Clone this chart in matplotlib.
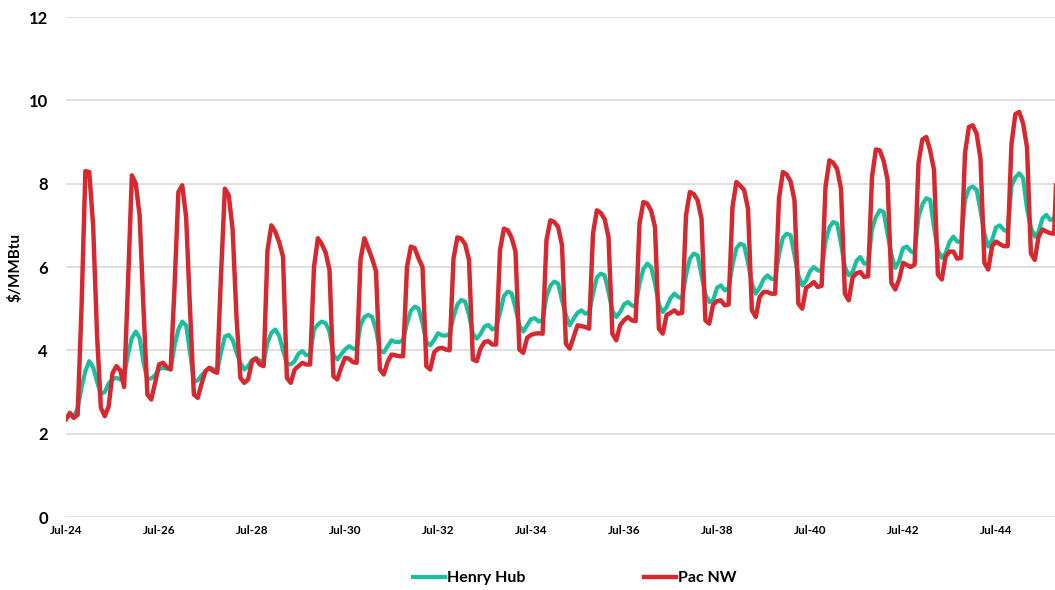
import numpy as np
import matplotlib
matplotlib.use("Agg")
import matplotlib.pyplot as plt

# Monthly forward prices, $/MMBtu, Jul-24 .. Nov-45 (one row = Jul..Jun)
henry_hub = [
    2.36, 2.45, 2.42, 2.60, 3.10, 3.50, 3.74, 3.60, 3.25, 2.95, 3.00, 3.20,  # Jul-24
    3.30, 3.34, 3.30, 3.40, 3.90, 4.30, 4.45, 4.30, 3.70, 3.30, 3.33, 3.40,  # Jul-25
    3.55, 3.58, 3.56, 3.55, 4.10, 4.50, 4.69, 4.60, 3.95, 3.25, 3.28, 3.40,  # Jul-26
    3.50, 3.58, 3.55, 3.50, 3.95, 4.33, 4.37, 4.25, 3.95, 3.70, 3.54, 3.62,  # Jul-27
    3.76, 3.82, 3.75, 3.72, 4.18, 4.42, 4.50, 4.35, 4.00, 3.68, 3.66, 3.74,  # Jul-28
    3.92, 3.98, 3.88, 3.90, 4.50, 4.62, 4.69, 4.65, 4.45, 3.90, 3.78, 3.90,  # Jul-29
    4.02, 4.10, 4.05, 4.02, 4.60, 4.80, 4.85, 4.80, 4.49, 4.00, 3.95, 4.10,  # Jul-30
    4.24, 4.20, 4.20, 4.25, 4.65, 4.95, 5.05, 5.00, 4.65, 4.20, 4.12, 4.25,  # Jul-31
    4.41, 4.36, 4.35, 4.40, 4.80, 5.10, 5.21, 5.17, 4.85, 4.40, 4.28, 4.40,  # Jul-32
    4.57, 4.61, 4.50, 4.55, 4.89, 5.30, 5.41, 5.37, 5.01, 4.60, 4.45, 4.60,  # Jul-33
    4.75, 4.77, 4.69, 4.73, 5.29, 5.55, 5.65, 5.60, 5.20, 4.85, 4.60, 4.76,  # Jul-34
    4.90, 4.96, 4.88, 4.90, 5.36, 5.75, 5.84, 5.80, 5.40, 4.95, 4.80, 4.92,  # Jul-35
    5.10, 5.16, 5.08, 5.05, 5.60, 5.95, 6.08, 6.00, 5.60, 5.10, 4.92, 5.04,  # Jul-36
    5.25, 5.36, 5.28, 5.24, 5.80, 6.20, 6.32, 6.28, 5.80, 5.35, 5.16, 5.20,  # Jul-37
    5.50, 5.56, 5.44, 5.50, 6.05, 6.45, 6.56, 6.52, 6.10, 5.60, 5.36, 5.50,  # Jul-38
    5.70, 5.80, 5.72, 5.70, 6.30, 6.70, 6.80, 6.76, 6.28, 5.80, 5.56, 5.68,  # Jul-39
    5.90, 6.00, 5.92, 5.90, 6.60, 6.95, 7.08, 7.04, 6.56, 6.00, 5.80, 5.88,  # Jul-40
    6.15, 6.24, 6.08, 6.10, 6.90, 7.20, 7.36, 7.32, 6.80, 6.30, 5.98, 6.14,  # Jul-41
    6.45, 6.49, 6.38, 6.33, 7.20, 7.50, 7.65, 7.61, 6.95, 6.40, 6.22, 6.33,  # Jul-42
    6.60, 6.73, 6.61, 6.60, 7.60, 7.88, 7.93, 7.85, 7.35, 6.80, 6.49, 6.65,  # Jul-43
    6.95, 7.00, 6.89, 6.85, 7.95, 8.15, 8.25, 8.13, 7.40, 6.95, 6.73, 6.85,  # Jul-44
    7.17, 7.25, 7.13, 7.15, 7.80,                                            # Jul-45
]

pac_nw = [
    2.35, 2.50, 2.38, 2.45, 5.00, 8.30, 8.28, 7.00, 4.40, 2.62, 2.42, 2.65,  # Jul-24
    3.45, 3.62, 3.52, 3.12, 5.60, 8.20, 8.00, 7.24, 5.00, 2.94, 2.82, 3.22,  # Jul-25
    3.66, 3.70, 3.60, 3.54, 5.50, 7.80, 7.96, 7.20, 5.00, 2.94, 2.86, 3.20,  # Jul-26
    3.50, 3.58, 3.50, 3.46, 5.80, 7.88, 7.72, 6.90, 4.80, 3.34, 3.22, 3.30,  # Jul-27
    3.74, 3.80, 3.66, 3.62, 6.40, 7.00, 6.85, 6.60, 6.25, 3.34, 3.22, 3.54,  # Jul-28
    3.62, 3.70, 3.66, 3.66, 6.00, 6.69, 6.55, 6.35, 5.93, 3.38, 3.30, 3.58,  # Jul-29
    3.82, 3.80, 3.72, 3.70, 6.17, 6.69, 6.45, 6.20, 5.90, 3.54, 3.42, 3.72,  # Jul-30
    3.90, 3.88, 3.86, 3.86, 6.00, 6.49, 6.45, 6.20, 6.00, 3.62, 3.54, 3.95,  # Jul-31
    4.04, 4.06, 4.02, 4.00, 6.20, 6.71, 6.68, 6.55, 6.17, 3.78, 3.74, 4.05,  # Jul-32
    4.20, 4.22, 4.14, 4.14, 6.40, 6.92, 6.88, 6.70, 6.37, 4.02, 3.94, 4.30,  # Jul-33
    4.37, 4.40, 4.41, 4.40, 6.65, 7.12, 7.08, 6.96, 6.52, 4.16, 4.04, 4.32,  # Jul-34
    4.60, 4.58, 4.56, 4.52, 6.80, 7.36, 7.30, 7.15, 6.72, 4.40, 4.24, 4.60,  # Jul-35
    4.72, 4.80, 4.72, 4.70, 7.04, 7.56, 7.52, 7.35, 6.96, 4.52, 4.40, 4.85,  # Jul-36
    4.90, 4.96, 4.88, 4.90, 7.24, 7.80, 7.75, 7.60, 7.16, 4.72, 4.64, 5.10,  # Jul-37
    5.18, 5.20, 5.08, 5.10, 7.44, 8.04, 7.95, 7.85, 7.40, 4.96, 4.80, 5.28,  # Jul-38
    5.40, 5.40, 5.36, 5.36, 7.64, 8.28, 8.22, 8.05, 7.60, 5.12, 5.00, 5.50,  # Jul-39
    5.56, 5.64, 5.52, 5.55, 7.92, 8.56, 8.50, 8.35, 7.88, 5.36, 5.20, 5.75,  # Jul-40
    5.85, 5.88, 5.76, 5.78, 8.16, 8.82, 8.80, 8.55, 8.10, 5.62, 5.46, 5.70,  # Jul-41
    6.10, 6.05, 6.00, 6.06, 8.50, 9.06, 9.12, 8.80, 8.33, 5.82, 5.70, 6.25,  # Jul-42
    6.37, 6.37, 6.20, 6.22, 8.73, 9.36, 9.40, 9.20, 8.60, 6.10, 5.94, 6.50,  # Jul-43
    6.61, 6.55, 6.50, 6.50, 8.96, 9.67, 9.72, 9.44, 8.88, 6.33, 6.17, 6.73,  # Jul-44
    6.90, 6.85, 6.81, 6.80, 9.20,                                            # Jul-45
]

tick_labels = ["Jul-24", "Jul-26", "Jul-28", "Jul-30", "Jul-32", "Jul-34",
               "Jul-36", "Jul-38", "Jul-40", "Jul-42", "Jul-44"]

HH_COLOR = "#1abf9e"
PNW_COLOR = "#d7282f"

plt.rcParams["font.family"] = ["Lato", "DejaVu Sans"]
plt.rcParams["font.weight"] = "bold"

fig = plt.figure(figsize=(10.55, 5.9), dpi=100)
ax = fig.add_axes([66 / 1055, 1 - 517 / 590, 1 - 66 / 1055, 500 / 590])

months = np.arange(len(pac_nw))
ax.plot(months, henry_hub, color=HH_COLOR, lw=3.0, label="Henry Hub",
        solid_joinstyle="round")
ax.plot(months, pac_nw, color=PNW_COLOR, lw=3.2, label="Pac NW",
        solid_joinstyle="round")

ax.set_ylim(0, 12)
ax.set_yticks(range(0, 13, 2))
ax.set_xlim(0, (1055 - 66) / 3.875)
ax.set_xticks(np.arange(len(tick_labels)) * 24)
ax.set_xticklabels(tick_labels, fontsize=8.5, fontweight="bold")
ax.tick_params(axis="y", labelsize=12, length=0, pad=13)
ax.tick_params(axis="x", length=0, pad=6)
for lab in ax.get_yticklabels():
    lab.set_fontweight("bold")

ax.grid(axis="y", color="#d9d9d9", lw=1.2)
ax.set_axisbelow(True)
for s in ax.spines.values():
    s.set_visible(False)

ax.set_ylabel("\\$/MMBtu", fontsize=11, fontweight="bold")
ax.yaxis.set_label_coords(-0.044, 0.5)

fig.legend(loc="center", bbox_to_anchor=(575 / 1055, 1 - 578 / 590), ncol=2,
           frameon=False, columnspacing=7.4, handlelength=2.0,
           handletextpad=0.15, prop={"weight": "bold", "size": 11.5})

fig.savefig("out.png", dpi=100)
